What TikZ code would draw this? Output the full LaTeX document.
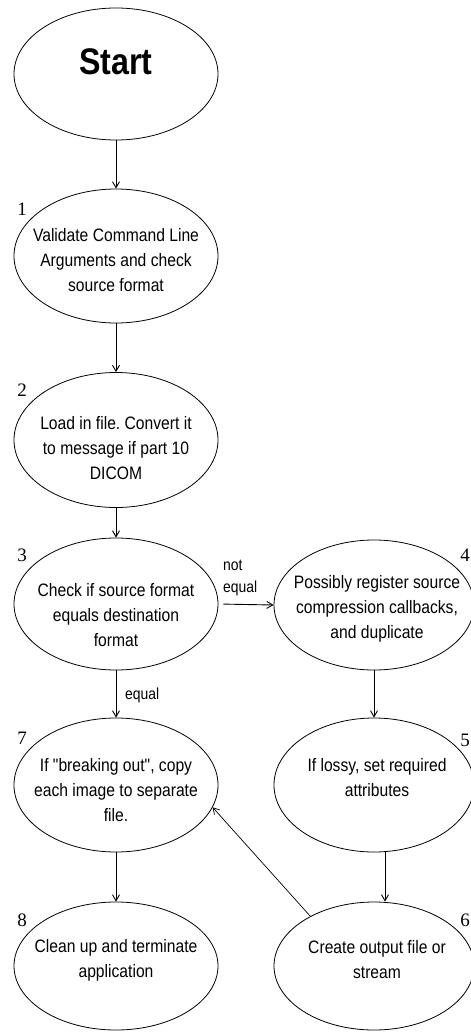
\documentclass[tikz,border=0pt]{standalone}
\usepackage{fontspec}
\setmainfont{Liberation Sans}
\newfontfamily\cf[FakeStretch=0.87]{Liberation Sans}
\newfontfamily\nf{Liberation Serif}
\usetikzlibrary{shapes.geometric,arrows.meta}
\frenchspacing
\begin{document}
\begin{tikzpicture}[x=1pt,y=-1pt,
  ell/.style={draw, ellipse, line width=0.8pt, inner sep=0pt, minimum width=204pt, minimum height=134pt},
  rell/.style={ell, minimum width=200pt},
  txt/.style={align=center, font=\cf\fontsize{18}{25}\selectfont, inner sep=0pt},
  num/.style={font=\nf\fontsize{19}{19}\selectfont, inner sep=0pt},
  lbl/.style={font=\cf\fontsize{16}{22}\selectfont, inner sep=0pt, align=left},
  arr/.style={-{Straight Barb[length=6pt,width=7pt]}, line width=0.9pt}]
\useasboundingbox (0,0) rectangle (471,1033);
% ellipses
\node[ell, minimum height=132pt] (e0) at (116,74) {};
\node[ell] (e1) at (116,256) {};
\node[ell, minimum height=135pt] (e2) at (116,440) {};
\node[ell, minimum height=132pt] (e3) at (116,604) {};
\node[rell, minimum height=130pt] (e4) at (374,605) {};
\node[ell] (e7) at (116,785) {};
\node[rell] (e5) at (374,785) {};
\node[ell, minimum height=128pt] (e8) at (116,966) {};
\node[rell, minimum height=128pt] (e6) at (374,966) {};
% texts
\node[inner sep=0pt, font=\cf\bfseries\fontsize{37}{37}\selectfont] (t0) at (116,62) {Start};
\node[txt] (t1) at (116,260) {Validate Command Line\\Arguments and check\\source format};
\node[txt] (t2) at (116,448) {Load in file. Convert it\\to message if part 10\\DICOM};
\node[txt] (t3) at (116,615) {Check if source format\\equals destination\\format};
\node[txt] (t4) at (377,609) {Possibly register source\\compression callbacks,\\and duplicate};
\node[txt] (t7) at (116,790) {If "breaking out", copy\\each image to separate\\file.};
\node[txt] (t5) at (377,778) {If lossy, set required\\attributes};
\node[txt] (t8) at (116,960) {Clean up and terminate\\application};
\node[txt] (t6) at (377,960) {Create output file or\\stream};
% numbers
\node[num] (n1) at (22,209) {1};
\node[num] (n2) at (22,390) {2};
\node[num] (n3) at (22,555) {3};
\node[num] (n4) at (465,555) {4};
\node[num] (n7) at (22,738) {7};
\node[num] (n5) at (465,740) {5};
\node[num] (n8) at (22,920) {8};
\node[num] (n6) at (465,920) {6};
% connectors
\draw[arr] (e0.south) -- (e1.north);
\draw[arr] (e1.south) -- (e2.north);
\draw[arr] (e2.south) -- (e3.north);
\draw[arr, shorten <=5pt] (e3.east) -- (e4.west);
\node[lbl, anchor=south west] (lne) at (223,596) {not\\equal};
\draw[arr] (e3.south) -- (e7.north);
\node[lbl, anchor=west] (leq) at (125,695) {equal};
\draw[arr] (e4.south) -- (e5.north);
\draw[arr] (e7.south) -- (e8.north);
\draw[arr] ([xshift=11pt]e5.south) -- ([xshift=11pt]e6.north);
\draw[arr, line width=0.7pt] (e6.142) -- (e7.-13);
\end{tikzpicture}
\end{document}
